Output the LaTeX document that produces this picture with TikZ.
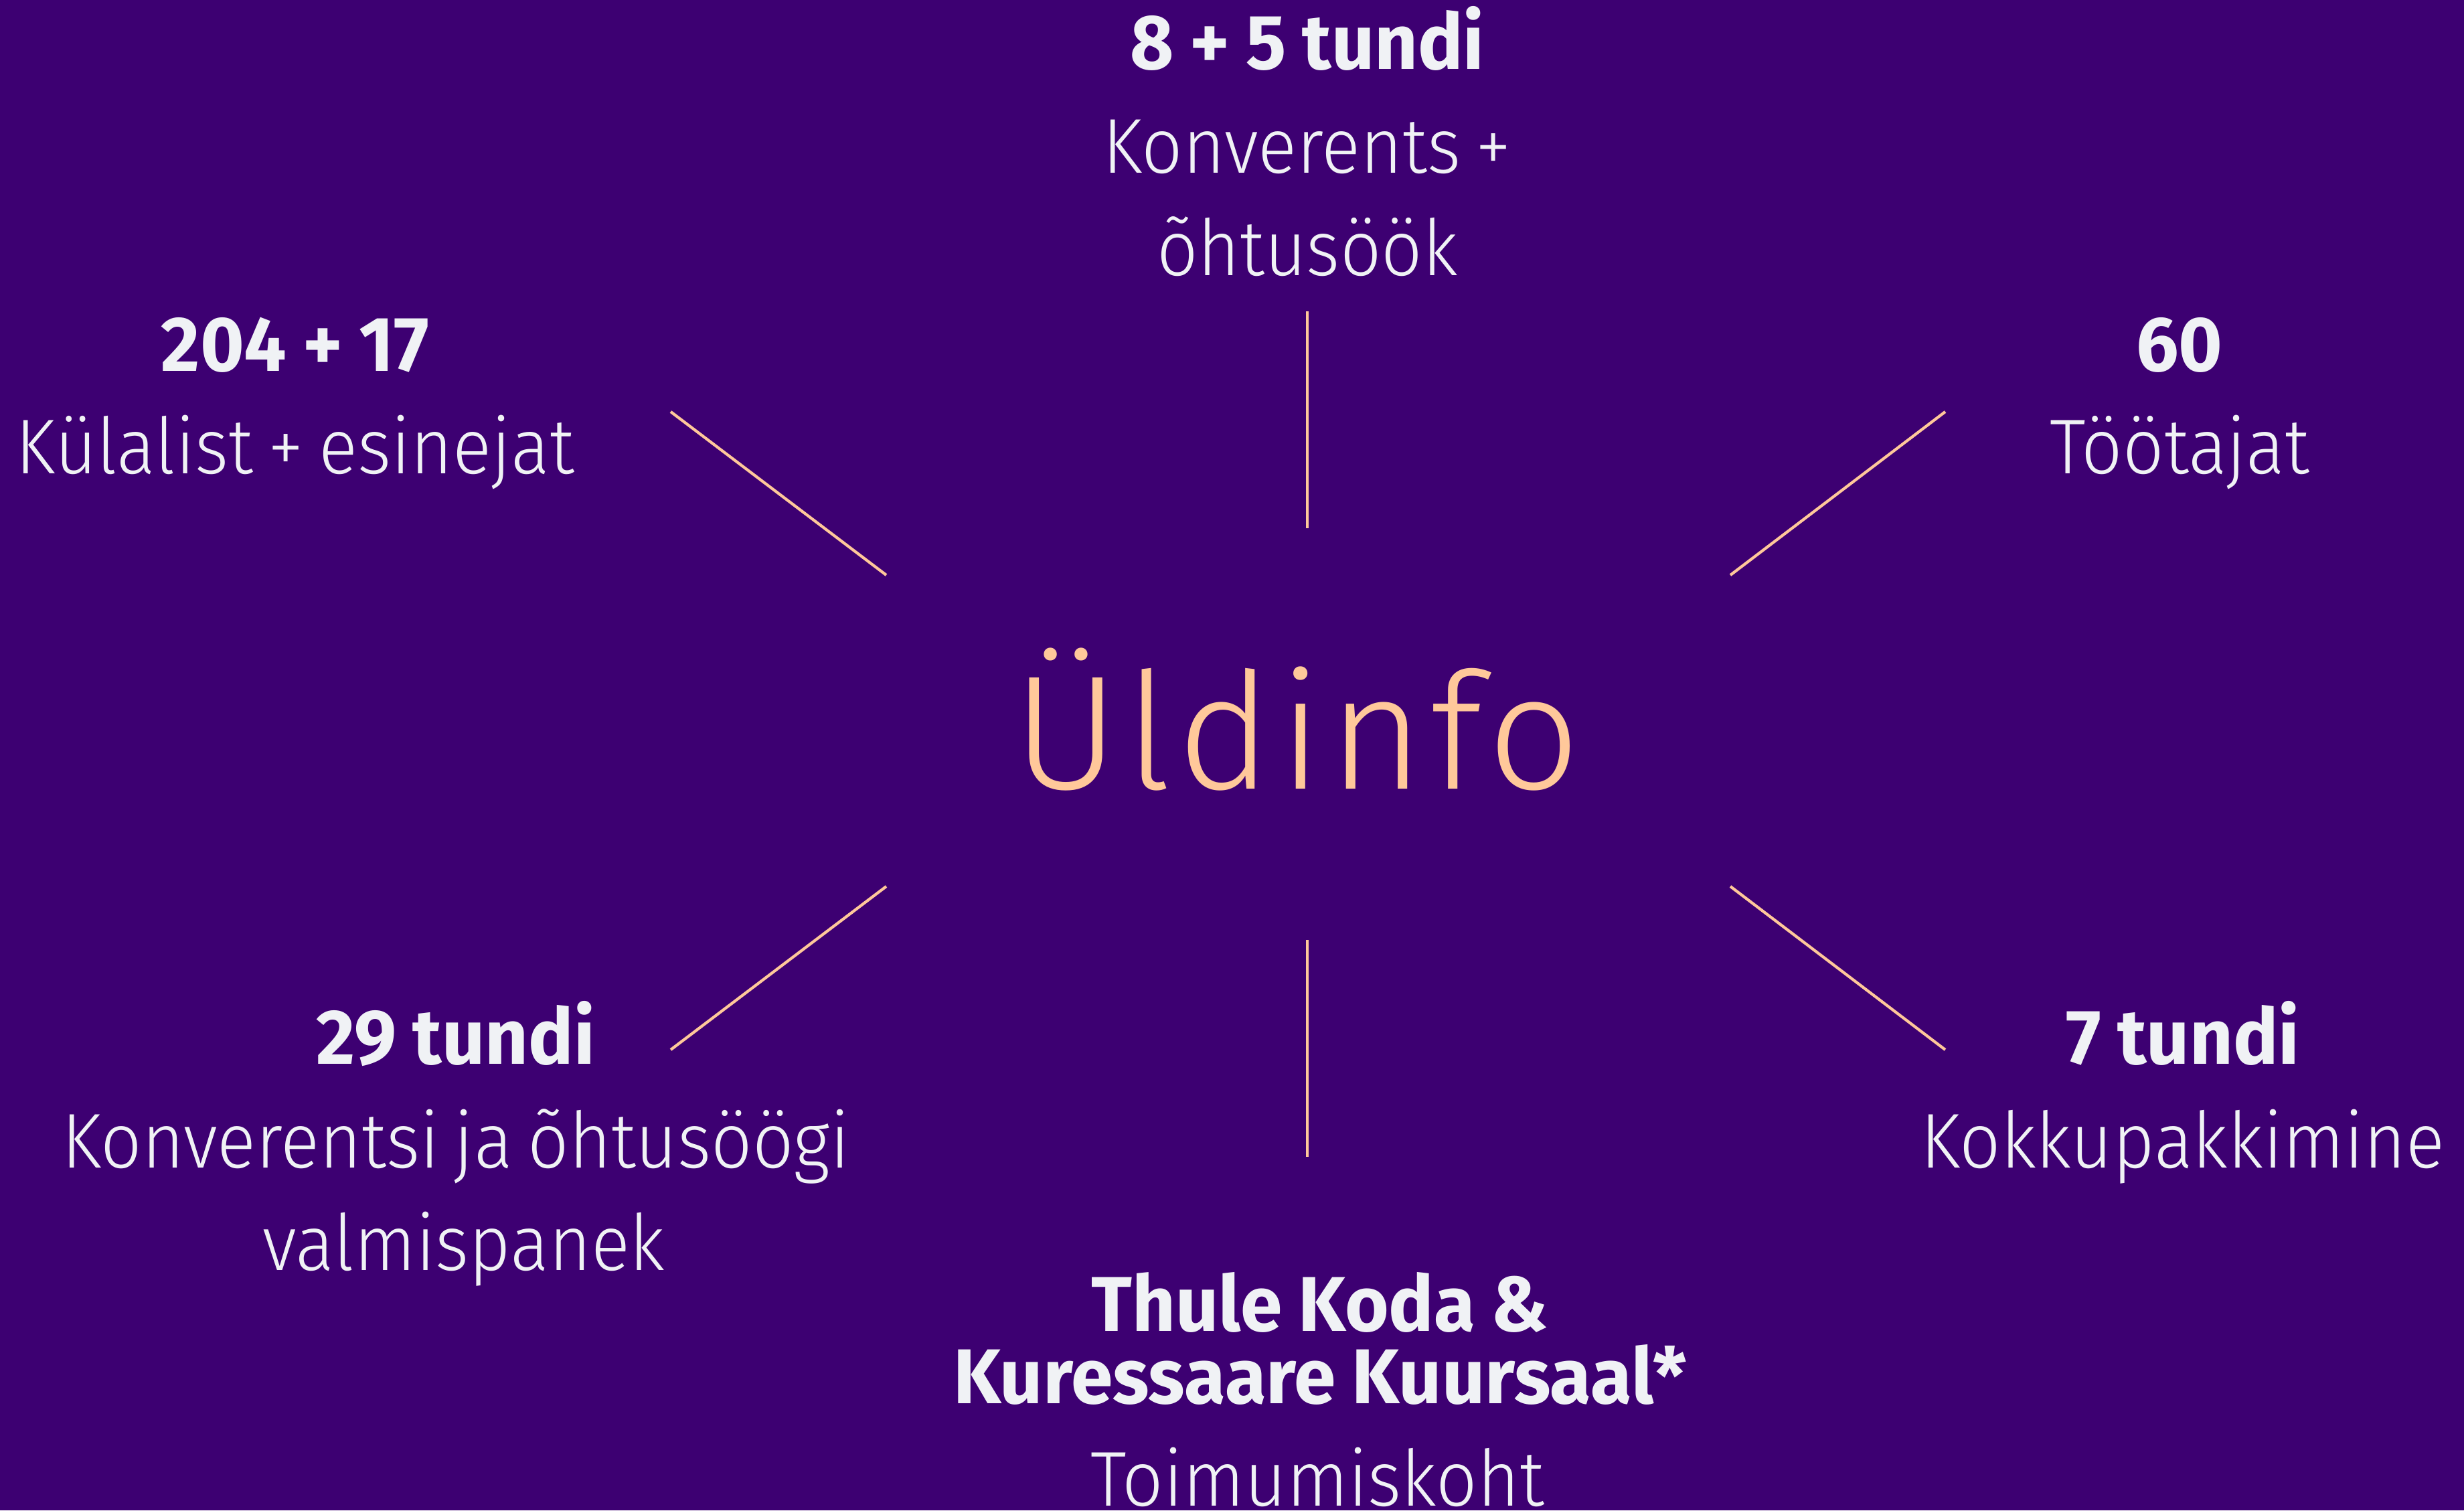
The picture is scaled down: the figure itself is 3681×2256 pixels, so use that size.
\documentclass[tikz,border=0pt]{standalone}
\usepackage{fontspec}
\setmainfont{Fira Sans}
\newfontfamily\boldf{Fira Sans Bold}[FakeStretch=0.97, WordSpace=0.9]
\newfontfamily\lightf{Fira Sans Light}[FakeStretch=0.93, WordSpace=0.75]
\newfontfamily\titlef{Fira Sans Light}[LetterSpace=4]
\definecolor{bg}{HTML}{3D0072}
\definecolor{fg}{HTML}{F0F2F5}
\definecolor{peach}{HTML}{FFC89A}
\tikzset{
  hd/.style={anchor=base, text=fg, inner sep=0pt, font=\boldf\fontsize{33}{33}\selectfont},
  tx/.style={anchor=base, text=fg, inner sep=0pt, font=\lightf\fontsize{33}{33}\selectfont},
  ttl/.style={anchor=base, text=peach, inner sep=0pt, font=\titlef\fontsize{69}{69}\selectfont},
  spoke/.style={draw=peach, line width=1.2pt}
}
\begin{document}
\begin{tikzpicture}[x=0.01cm,y=-0.01cm]
\fill[bg] (0,0) rectangle (3681,2256);
\useasboundingbox (0,0) rectangle (3681,2256);
% title
\node[ttl] (title) at (1937,1178) {Üldinfo};
% top
\node[hd] (t1) at (1953,103) {8 + 5 tundi};
\node[tx] (t2) at (1953,258) {Konverents +};
\node[tx] (t3) at (1953,411) {õhtusöök};
% upper left
\node[hd] (ul1) at (441,554) {204 + 17};
\node[tx] (ul2) at (441,707) {Külalist + esinejat};
% upper right
\node[hd] (ur1) at (3256,554) {60};
\node[tx] (ur2) at (3256,707) {Töötajat};
% lower left
\node[hd] (ll1) at (681,1589) {29 tundi};
\node[tx] (ll2) at (681,1744) {Konverentsi ja õhtusöögi};
\node[tx] (ll3) at (693,1897) {valmispanek};
% lower right
\node[hd] (lr1) at (3261,1589) {7 tundi};
\node[tx] (lr2) at (3261,1744) {Kokkupakkimine};
% bottom
\node[hd] (b1) at (1972,1988) {Thule Koda \&};
\node[hd] (b2) at (1972,2096) {Kuressaare Kuursaal*};
\node[tx] (b3) at (1968,2249) {Toimumiskoht};
% spoke ends
\coordinate (sT1) at (1953,465);  \coordinate (sT2) at (1953,789);
\coordinate (sB1) at (1953,1404); \coordinate (sB2) at (1953,1728);
\coordinate (sUL1) at (1002,615); \coordinate (sUL2) at (1324,859);
\coordinate (sUR1) at (2906,615); \coordinate (sUR2) at (2585,859);
\coordinate (sLL1) at (1324,1324); \coordinate (sLL2) at (1002,1568);
\coordinate (sLR1) at (2585,1324); \coordinate (sLR2) at (2906,1568);
\draw[spoke] (sT1) -- (sT2);
\draw[spoke] (sB1) -- (sB2);
\draw[spoke] (sUL1) -- (sUL2);
\draw[spoke] (sUR1) -- (sUR2);
\draw[spoke] (sLL1) -- (sLL2);
\draw[spoke] (sLR1) -- (sLR2);
\end{tikzpicture}
\end{document}
